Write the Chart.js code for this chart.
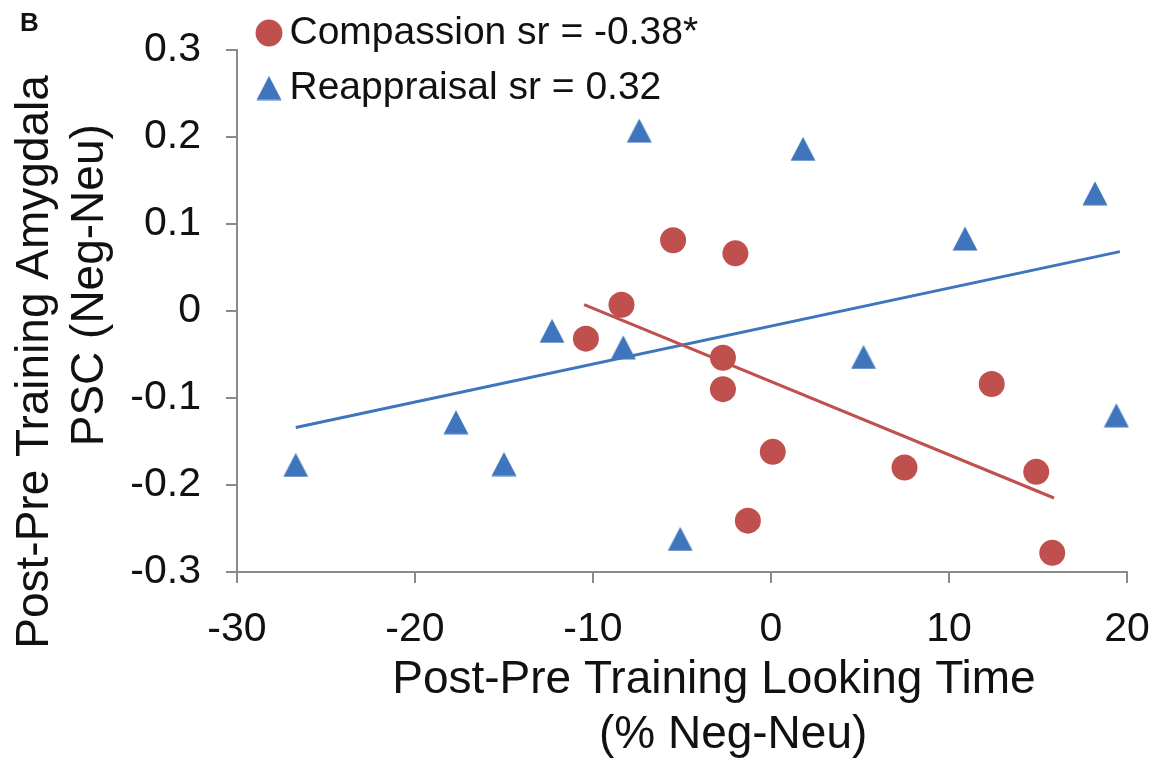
<!DOCTYPE html>
<html><head><meta charset="utf-8">
<script src="https://cdn.jsdelivr.net/npm/chart.js@4"></script>
<style>html,body{margin:0;padding:0;background:#fff}#wrap{width:1172px;height:760px;position:relative}</style>
</head><body><div id="wrap"><canvas id="c"></canvas></div>
<script>
const compassionX = [-10.4, -8.4, -5.5, -2.0, -2.7, -2.7, 0.1, -1.3, 7.5, 12.4, 14.9, 15.8];
const compassionY = [-0.032, 0.007, 0.081, 0.066, -0.054, -0.090, -0.162, -0.241, -0.180, -0.084, -0.185, -0.278];
const reappraisalX = [-26.7, -17.7, -15.0, -12.3, -8.3, -7.4, -5.1, 1.8, 5.2, 10.9, 18.2, 19.4];
const reappraisalY = [-0.177, -0.128, -0.176, -0.023, -0.042, 0.207, -0.262, 0.186, -0.053, 0.083, 0.135, -0.120];
const compassionFitX = [-10.5, 15.9];
const compassionFitY = [0.007, -0.215];
const reappraisalFitX = [-26.7, 19.6];
const reappraisalFitY = [-0.134, 0.068];
const xTickValues = [-30, -20, -10, 0, 10, 20];
const xTickLabels = ['-30', '-20', '-10', '0', '10', '20'];
const yTickValues = [-0.3, -0.2, -0.1, 0, 0.1, 0.2, 0.3];
const yTickLabels = ['-0.3', '-0.2', '-0.1', '0', '0.1', '0.2', '0.3'];
const seriesLabels = ['Compassion sr = -0.38*', 'Reappraisal sr = 0.32'];
const xTitleLines = ['     Post-Pre Training Looking Time', '        (% Neg-Neu)'];
const yTitleLines = ['Post-Pre Training Amygdala        ', '    PSC (Neg-Neu)'];
const panelLabel = 'B';

const RED = '#c0504d';
const BLUE = '#3f75bd';
const AXIS = '#8a8a8a';
const FONT = "'Liberation Sans', Arial, sans-serif";

function pts(xs, ys) { return xs.map((x, i) => ({x: x, y: ys[i]})); }

// triangle marker centred on its bounding box
const tri = document.createElement('canvas');
tri.width = 26; tri.height = 25;
(function(){
  const c = tri.getContext('2d');
  c.fillStyle = BLUE;
  c.beginPath();
  c.moveTo(13, 0.5); c.lineTo(25.5, 24.5); c.lineTo(0.5, 24.5); c.closePath();
  c.fill();
})();

const legendPlace = {
  id: 'legendPlace',
  afterLayout(chart) {
    const lg = chart.legend;
    if (!lg) return;
    lg.left = 252; lg.top = -2.5;
    lg.width = 600; lg.height = 200;
    lg.right = lg.left + lg.width; lg.bottom = lg.top + lg.height;
  }
};

const panelTag = {
  id: 'panelTag',
  afterDraw(chart) {
    const ctx = chart.ctx;
    ctx.save();
    ctx.font = "bold 26px " + FONT;
    ctx.fillStyle = '#111';
    ctx.textAlign = 'left';
    ctx.textBaseline = 'alphabetic';
    ctx.fillText(panelLabel, 20, 31);
    ctx.restore();
  }
};

new Chart(document.getElementById('c'), {
  type: 'scatter',
  data: {
    datasets: [
      {label: seriesLabels[0], data: pts(compassionX, compassionY), backgroundColor: RED, borderColor: RED,
       pointStyle: 'circle', pointRadius: 13, pointHoverRadius: 13, borderWidth: 0, order: 1},
      {label: seriesLabels[1], data: pts(reappraisalX, reappraisalY), backgroundColor: BLUE, borderColor: BLUE,
       pointStyle: tri, pointRadius: 13, borderWidth: 0, order: 1},
      {label: 'fitC', type: 'line', data: pts(compassionFitX, compassionFitY), borderColor: RED, borderWidth: 3,
       pointRadius: 0, fill: false, order: 2},
      {label: 'fitR', type: 'line', data: pts(reappraisalFitX, reappraisalFitY), borderColor: BLUE, borderWidth: 3,
       pointRadius: 0, fill: false, order: 2}
    ]
  },
  options: {
    responsive: true, maintainAspectRatio: false, animation: false,
    clip: false,
    layout: {padding: {left: 0, right: 45, top: 44, bottom: 0}},
    plugins: {
      tooltip: {enabled: false},
      legend: {
        position: 'chartArea', align: 'start',
        labels: {
          usePointStyle: true, boxWidth: 2, boxHeight: 19, padding: 16,
          color: '#111', font: {family: FONT, size: 39},
          filter: (item) => item.datasetIndex < 2
        }
      }
    },
    scales: {
      x: {
        type: 'linear', min: -30, max: 20,
        afterFit: (s) => { s.height = 188; },
        afterBuildTicks: (s) => { s.ticks = xTickValues.map(v => ({value: v})); },
        ticks: {callback: (v, i) => xTickLabels[i], color: '#111', padding: 22,
                font: {family: FONT, size: 41}, maxRotation: 0, autoSkip: false},
        grid: {drawOnChartArea: false, drawTicks: true, tickLength: 11, color: AXIS, lineWidth: 2},
        border: {display: true, color: AXIS, width: 2},
        title: {display: true, text: xTitleLines, color: '#111', font: {family: FONT, size: 46, lineHeight: 1.18},
                padding: {top: 0, bottom: -2}}
      },
      y: {
        type: 'linear', min: -0.3, max: 0.3,
        afterFit: (s) => { s.width = 237; },
        afterBuildTicks: (s) => { s.ticks = yTickValues.map(v => ({value: v})); },
        ticks: {callback: (v, i) => yTickLabels[i], color: '#111', padding: 25,
                font: {family: FONT, size: 41}, autoSkip: false},
        grid: {drawOnChartArea: false, drawTicks: true, tickLength: 11, color: AXIS, lineWidth: 2},
        border: {display: true, color: AXIS, width: 2},
        title: {display: true, text: yTitleLines, color: '#111', font: {family: FONT, size: 46, lineHeight: 1.2},
                padding: {top: 8, bottom: 0}}
      }
    }
  },
  plugins: [legendPlace, panelTag]
});
</script>
</body></html>
